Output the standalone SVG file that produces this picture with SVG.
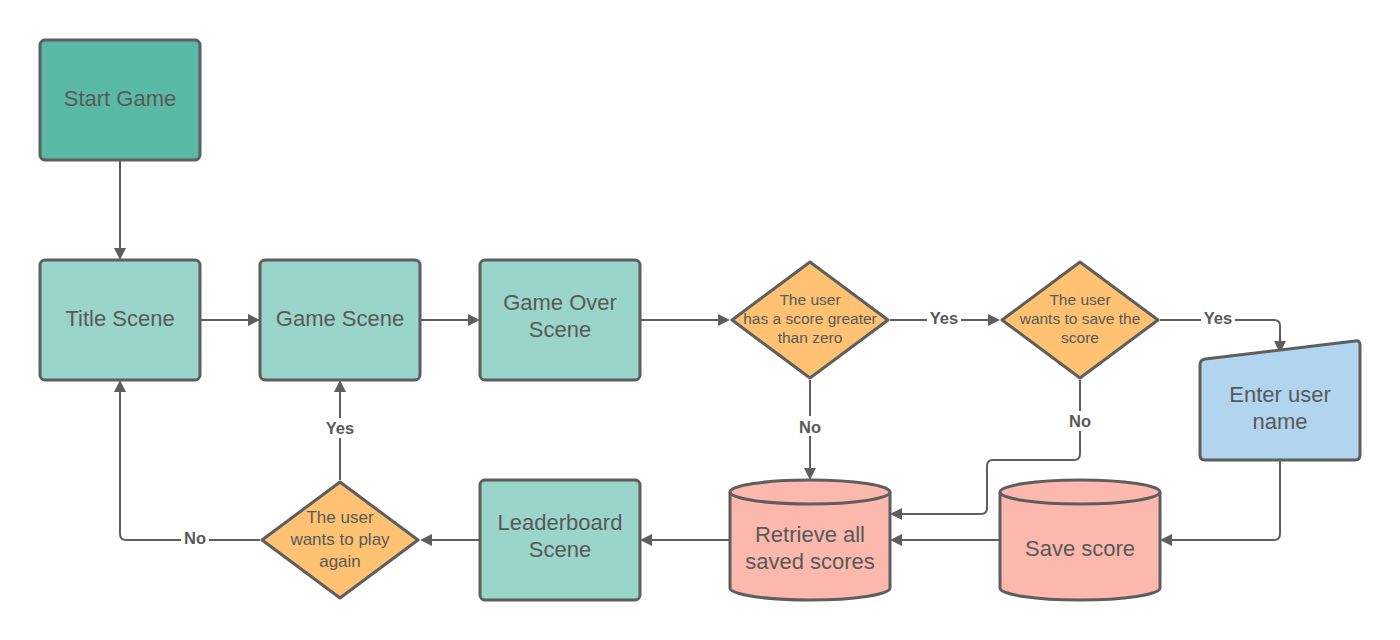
<svg xmlns="http://www.w3.org/2000/svg" width="1400" height="640" viewBox="0 0 1400 640">
<defs>
<style>
.n{stroke:#5e5e5e;stroke-width:3;stroke-linejoin:round}
.proc{fill:#99d5ca}
.start{fill:#5ab9a5}
.dec{fill:#fec272}
.io{fill:#b1d5ee}
.db{fill:#fdb8ae}
.t{font-family:"Liberation Sans",Arial,sans-serif;font-size:22px;fill:#595959;text-anchor:middle}
.ts{font-family:"Liberation Sans",Arial,sans-serif;font-size:15.5px;fill:#595959;text-anchor:middle}
.tm{font-family:"Liberation Sans",Arial,sans-serif;font-size:17px;fill:#595959;text-anchor:middle}
.lbl{font-family:"Liberation Sans",Arial,sans-serif;font-size:16.5px;font-weight:bold;fill:#595959;text-anchor:middle}
.c{fill:none;stroke:#5e5e5e;stroke-width:2}
.bg{fill:#ffffff}
</style>
<marker id="arr" markerWidth="12" markerHeight="12" refX="10" refY="6" orient="auto" markerUnits="userSpaceOnUse">
<path d="M0,0 L12,6 L0,12 Z" fill="#5e5e5e"/>
</marker>
</defs>
<rect width="1400" height="640" fill="#ffffff"/>

<g id="connectors">
<path class="c" d="M120,160 V258" marker-end="url(#arr)"/>
<path class="c" d="M200,320 H258" marker-end="url(#arr)"/>
<path class="c" d="M420,320 H478" marker-end="url(#arr)"/>
<path class="c" d="M640,320 H728" marker-end="url(#arr)"/>
<path class="c" d="M890,320 H998" marker-end="url(#arr)"/>
<path class="c" d="M1160,320 H1274 Q1280,320 1280,326 V351" marker-end="url(#arr)"/>
<path class="c" d="M810,380 V478" marker-end="url(#arr)"/>
<path class="c" d="M1080,380 V454 Q1080,460 1074,460 H993 Q987,460 987,466 V508 Q987,514 981,514 H892" marker-end="url(#arr)"/>
<path class="c" d="M1280,460 V534 Q1280,540 1274,540 H1162" marker-end="url(#arr)"/>
<path class="c" d="M1000,540 H892" marker-end="url(#arr)"/>
<path class="c" d="M730,540 H642" marker-end="url(#arr)"/>
<path class="c" d="M480,540 H422" marker-end="url(#arr)"/>
<path class="c" d="M340,480 V382" marker-end="url(#arr)"/>
<path class="c" d="M260,540 H126 Q120,540 120,534 V382" marker-end="url(#arr)"/>
<rect class="bg" x="927" y="308" width="34" height="20"/>
<text class="lbl" x="944" y="324">Yes</text>
<rect class="bg" x="1201" y="308" width="34" height="20"/>
<text class="lbl" x="1218" y="324">Yes</text>
<rect class="bg" x="796" y="416" width="28" height="20"/>
<text class="lbl" x="810" y="433">No</text>
<rect class="bg" x="1066" y="411" width="28" height="20"/>
<text class="lbl" x="1080" y="427">No</text>
<rect class="bg" x="323" y="418" width="34" height="20"/>
<text class="lbl" x="340" y="434">Yes</text>
<rect class="bg" x="181" y="529" width="28" height="20"/>
<text class="lbl" x="195" y="544">No</text>
</g>

<g id="start-game">
<rect class="n start" x="40" y="40" width="160" height="120" rx="5"/>
<text class="t" x="120" y="106">Start Game</text>
</g>
<g id="title-scene">
<rect class="n proc" x="40" y="260" width="160" height="120" rx="5"/>
<text class="t" x="120" y="326">Title Scene</text>
</g>
<g id="game-scene">
<rect class="n proc" x="260" y="260" width="160" height="120" rx="5"/>
<text class="t" x="340" y="326">Game Scene</text>
</g>
<g id="game-over-scene">
<rect class="n proc" x="480" y="260" width="160" height="120" rx="5"/>
<text class="t" x="560" y="310">Game Over</text>
<text class="t" x="560" y="337">Scene</text>
</g>
<g id="decision-score">
<path class="n dec" d="M810,262 L888,320 L810,378 L732,320 Z"/>
<text class="ts" x="810" y="305">The user</text>
<text class="ts" x="810" y="324">has a score greater</text>
<text class="ts" x="810" y="343">than zero</text>
</g>
<g id="decision-save">
<path class="n dec" d="M1080,262 L1158,320 L1080,378 L1002,320 Z"/>
<text class="ts" x="1080" y="305">The user</text>
<text class="ts" x="1080" y="324">wants to save the</text>
<text class="ts" x="1080" y="343">score</text>
</g>
<g id="enter-user-name">
<path class="n io" d="M1205,359 L1355,341 Q1360,340 1360,345 V455 Q1360,460 1355,460 H1205 Q1200,460 1200,455 V365 Q1200,360 1205,359 Z"/>
<text class="t" x="1280" y="402">Enter user</text>
<text class="t" x="1280" y="429">name</text>
</g>
<g id="save-score">
<path class="n db" d="M1000,492 A80,12 0 0 1 1160,492 V588 A80,12 0 0 1 1000,588 Z"/>
<path class="n" fill="none" d="M1000,492 A80,12 0 0 0 1160,492"/>
<text class="t" x="1080" y="556">Save score</text>
</g>
<g id="retrieve-scores">
<path class="n db" d="M730,492 A80,12 0 0 1 890,492 V588 A80,12 0 0 1 730,588 Z"/>
<path class="n" fill="none" d="M730,492 A80,12 0 0 0 890,492"/>
<text class="t" x="810" y="542">Retrieve all</text>
<text class="t" x="810" y="569">saved scores</text>
</g>
<g id="leaderboard-scene">
<rect class="n proc" x="480" y="480" width="160" height="120" rx="5"/>
<text class="t" x="560" y="530">Leaderboard</text>
<text class="t" x="560" y="557">Scene</text>
</g>
<g id="decision-play-again">
<path class="n dec" d="M340,482 L418,540 L340,598 L262,540 Z"/>
<text class="tm" x="340" y="523">The user</text>
<text class="tm" x="340" y="545">wants to play</text>
<text class="tm" x="340" y="567">again</text>
</g>
</svg>
